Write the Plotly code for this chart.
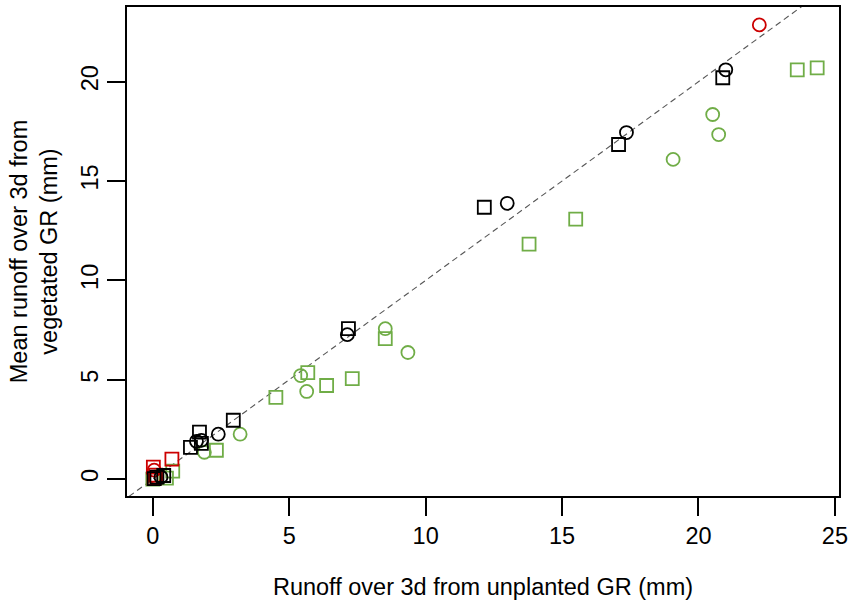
import plotly.graph_objects as go

# Runoff over 3 days: unplanted green roof (x) vs mean of vegetated green roofs (y), in mm
black_sq_x = [20.89, 17.07, 12.15, 7.17, 2.95, 1.71, 1.78, 1.38, 0.40, 0.15, 0.05]
black_sq_y = [20.20, 16.84, 13.68, 7.57, 2.96, 2.36, 1.80, 1.60, 0.18, 0.10, 0.02]

black_ci_x = [21.00, 17.36, 12.99, 7.13, 2.40, 1.60, 1.78, 0.30]
black_ci_y = [20.60, 17.44, 13.88, 7.27, 2.26, 1.90, 1.95, 0.10]

green_sq_x = [24.35, 23.62, 15.50, 13.79, 8.52, 7.31, 6.37, 5.68, 4.51, 2.33, 0.73, 0.50, 0.00]
green_sq_y = [20.70, 20.60, 13.08, 11.83, 7.07, 5.06, 4.71, 5.36, 4.11, 1.45, 0.40, 0.05, 0.00]

green_ci_x = [20.52, 20.74, 19.07, 9.35, 8.52, 5.42, 5.64, 3.20, 1.89, 0.10]
green_ci_y = [18.35, 17.34, 16.09, 6.37, 7.57, 5.21, 4.41, 2.26, 1.35, 0.05]

red_sq_x = [0.70, 0.02, 0.10, 0.05]
red_sq_y = [1.00, 0.60, 0.20, 0.05]

red_ci_x = [22.23, 0.05, 0.08]
red_ci_y = [22.86, 0.45, 0.10]

x_ticks = [0, 5, 10, 15, 20, 25]
y_ticks = [0, 5, 10, 15, 20]
x_range = [-0.946, 25.15]
y_range = [-0.852, 23.76]

BLACK = "#000000"
GREEN = "#70AD47"
RED = "#CC0000"
FONT = "Liberation Sans, Arial, sans-serif"
FS = 23.5

fig = go.Figure()

# 1:1 reference line
fig.add_trace(go.Scatter(
    x=[x_range[0] - 2, x_range[1] + 2], y=[x_range[0] - 2, x_range[1] + 2],
    mode="lines", line=dict(color="#555555", width=1.1, dash="6px,4px"),
    hoverinfo="skip", showlegend=False))

series = [
    (green_sq_x, green_sq_y, GREEN, "square-open"),
    (green_ci_x, green_ci_y, GREEN, "circle-open"),
    (red_sq_x, red_sq_y, RED, "square-open"),
    (red_ci_x, red_ci_y, RED, "circle-open"),
    (black_sq_x, black_sq_y, BLACK, "square-open"),
    (black_ci_x, black_ci_y, BLACK, "circle-open"),
]
for xs, ys, col, sym in series:
    fig.add_trace(go.Scatter(
        x=xs, y=ys, mode="markers",
        marker=dict(symbol=sym, size=13, color=col, line=dict(color=col, width=1.8)),
        showlegend=False))

fig.update_layout(
    width=853, height=605,
    margin=dict(l=127, r=9, t=5, b=109),
    paper_bgcolor="white", plot_bgcolor="white",
    font=dict(family=FONT, size=FS, color="#000000"),
    showlegend=False,
)
fig.update_xaxes(
    range=x_range, tickvals=x_ticks, ticktext=[str(t) for t in x_ticks],
    showgrid=False, zeroline=False,
    showline=True, mirror=True, linecolor="black", linewidth=1.8,
    ticks="outside", ticklen=18, tickwidth=1.8, tickcolor="black",
    tickfont=dict(size=FS),
    title=dict(text="Runoff over 3d from unplanted GR (mm)", font=dict(size=FS), standoff=30),
)
fig.update_yaxes(
    range=y_range, tickvals=y_ticks, ticktext=[str(t) for t in y_ticks],
    tickangle=-90,
    showgrid=False, zeroline=False,
    showline=True, mirror=True, linecolor="black", linewidth=1.8,
    ticks="outside", ticklen=18, tickwidth=1.8, tickcolor="black",
    tickfont=dict(size=FS),
    title=dict(text="Mean runoff over 3d from<br>vegetated GR (mm)", font=dict(size=FS), standoff=12),
)

fig.write_html("out.html")
